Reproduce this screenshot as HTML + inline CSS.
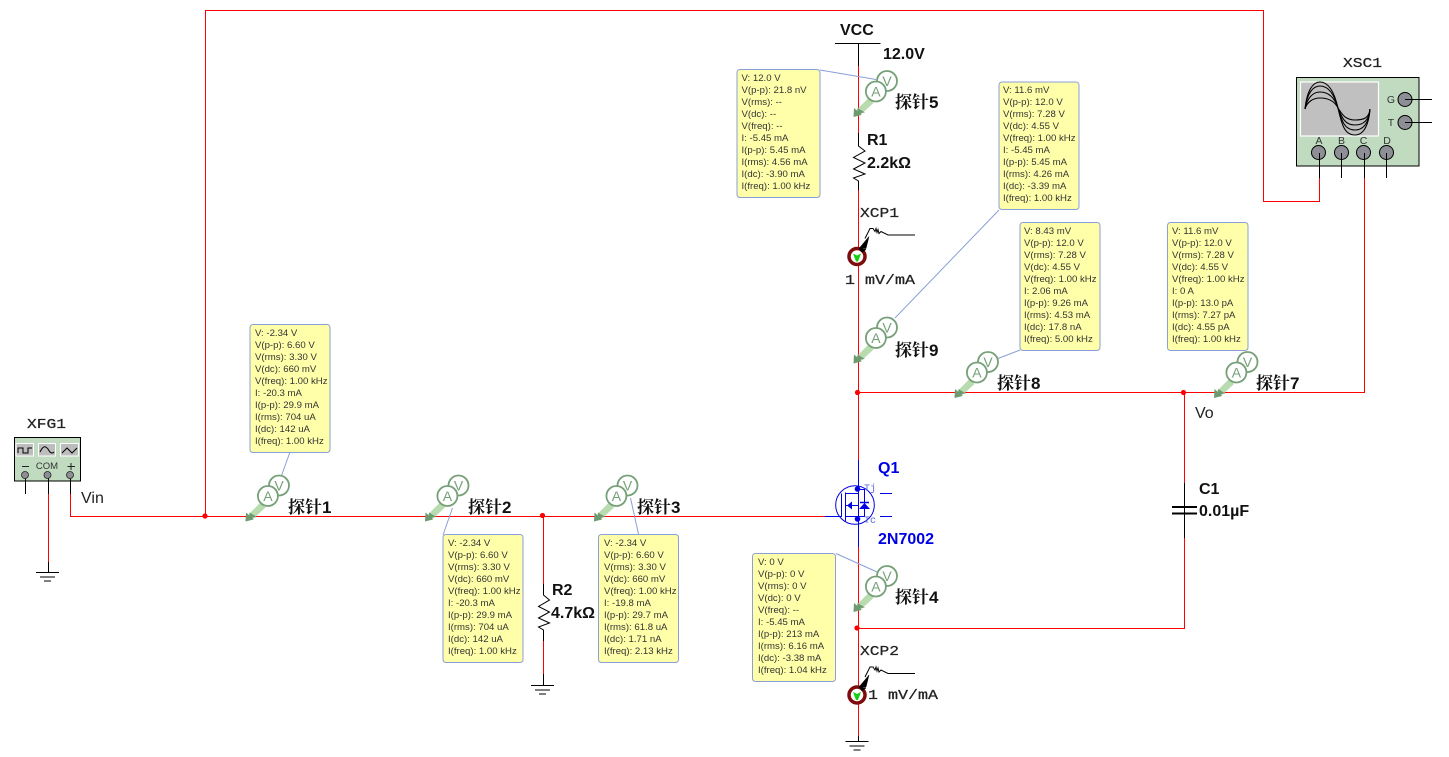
<!DOCTYPE html>
<html><head><meta charset="utf-8">
<style>
html,body{margin:0;padding:0;background:#fff}
svg{display:block}
text{font-family:"Liberation Sans","Noto Sans CJK SC",sans-serif}
.b{font-weight:bold;font-size:16px;fill:#111}
.m{font-family:"Liberation Mono",monospace;font-size:14px;fill:#222;stroke:#222;stroke-width:.25}
.p{font-family:"Liberation Sans","Noto Serif CJK SC",serif;font-weight:bold;font-size:17px;fill:#111}
.t{font-size:9.6px;fill:#333}
.tip{fill:#ffffaa;stroke:#8a9fd8;stroke-width:1}
.ld{stroke:#8a9fd8;stroke-width:1;fill:none}
.r{stroke:#ff0000;stroke-width:1;fill:none;shape-rendering:crispEdges}
.k{stroke:#000;stroke-width:1;fill:none;shape-rendering:crispEdges}
.kz{stroke:#000;stroke-width:1;fill:none}
.bl{stroke:#0000e6;stroke-width:1;fill:none}
.blt{font-weight:bold;font-size:16px;fill:#0000e6}
</style></head><body>
<svg width="1449" height="757" viewBox="0 0 1449 757" xmlns="http://www.w3.org/2000/svg">
<defs>
<g id="probe">
<path d="M3,-7 L15,-19 L20,-14 L8,-3 Z" fill="#b8dcb0"/>
<path d="M0,0 L0.500,-9 L4,-6 L4,-9 L11.500,-4.500 L7,-4 L8,-2 Z" fill="#6f9a70"/>
<circle cx="33.500" cy="-36" r="10" fill="#fff" stroke="#76a078" stroke-width="1.800"/>
<circle cx="22.400" cy="-25.500" r="10" fill="#fff" stroke="#76a078" stroke-width="1.800"/>
<text x="33.500" y="-31" font-size="14" text-anchor="middle" fill="#76a078">V</text>
<text x="22.400" y="-20.500" font-size="14" text-anchor="middle" fill="#76a078">A</text>
</g>
<g id="gnd">
<path d="M-11.500,0.500H11.500M-7.500,5H7.500M-3.700,9H3.700" stroke="#000" fill="none" shape-rendering="crispEdges"/>
</g>
<g id="xcp">
<path d="M8,-18 L13,-28 L16,-28 L18,-25 L19,-28 L20,-24 L21,-27 L22,-23 L24,-25 L31,-21.500 H58" fill="none" stroke="#000" stroke-width="1"/>
<circle cx="0" cy="0" r="8" fill="#fff" stroke="#7e0c0c" stroke-width="3.500"/>
<path d="M2,-8 L9,-8 L12,-20 Z M2,-8 L9,-7 L5,-4 Z" fill="#000" stroke="#000" stroke-width=".5"/>
<path d="M-4,-3 L0,-1 L4,-3 L1,5 L-1,5 Z" fill="#10d010"/>
</g>
</defs>

<!-- wires -->
<path class="r" d="M205.500,516.500V10.500H1263.500V201.500H1319.500V178"/>
<path class="r" d="M70.500,494V516.500H835"/>
<path class="r" d="M48.500,494V562"/>
<path class="k" d="M48.500,562V572"/>
<path class="r" d="M858.500,66V133"/>
<path class="k" d="M858.500,43V66"/>
<path class="k" d="M835,43.500H880.500"/>
<path class="kz" d="M858.500,133V146L865,151L853.500,157.500L865,163L853.500,169L865,174L853.500,178L858.500,181V190"/>
<path class="r" d="M858.500,190V460"/>
<path class="r" d="M858.500,392.500H1364.500V178"/>
<path class="r" d="M858.500,547V736"/>
<path class="k" d="M858.500,736V741"/>
<path class="r" d="M858.500,628.500H1184.500V538"/>
<path class="r" d="M1184.500,392V483"/>
<path class="k" d="M1184.500,483V538"/>
<path d="M1172,507H1197M1172,513.500H1197" stroke="#000" stroke-width="2" fill="none" shape-rendering="crispEdges"/>
<path class="r" d="M543.500,516V584"/>
<path class="kz" d="M543.500,584V595L549.500,600L538.500,606.500L549.500,612L538.500,618L549.500,623L538.500,627L543.500,630V641"/>
<path class="r" d="M543.500,641V674"/>
<path class="k" d="M543.500,674V685"/>
<use href="#gnd" x="47.500" y="572"/>
<use href="#gnd" x="542.500" y="685"/>
<use href="#gnd" x="857" y="741"/>
<g fill="#ff0000">
<circle cx="205" cy="516" r="2.600"/><circle cx="542.500" cy="515.500" r="2.600"/>
<circle cx="857.500" cy="392.500" r="2.600"/><circle cx="1183.500" cy="392.500" r="2.600"/>
<circle cx="857" cy="628" r="2.600"/>
</g>

<!-- MOSFET -->
<g class="bl">
<path d="M858.500,460V547" shape-rendering="crispEdges"/>
<path d="M825,516.500H841.500V493.500M845.500,492.500V521" shape-rendering="crispEdges"/>
<circle cx="855" cy="505" r="19.300"/>
<path d="M845.500,493.500H858M845.500,505.500H858M845.500,516.500H858" shape-rendering="crispEdges"/>
<path d="M858,489.500H864.500V516.500H858" shape-rendering="crispEdges"/>
<path d="M880,493.500H892M880,516.500H892" shape-rendering="crispEdges"/>
</g>
<path d="M847,505.500L852,501.500V509.500Z M864.500,503L859,509H870Z" fill="#0000e6"/>
<path d="M860,502.500H869" stroke="#0000e6" stroke-width="1.500"/>
<circle cx="857.500" cy="489" r="2.800" fill="#0000e6"/><circle cx="857.500" cy="519" r="2.800" fill="#0000e6"/>
<text x="864" y="491" font-size="10" fill="#5a6ad8" style="font-family:'Liberation Mono',monospace">Tj</text>
<text x="864" y="523" font-size="10" fill="#5a6ad8" style="font-family:'Liberation Mono',monospace">Tc</text>
<text class="blt" x="878" y="473">Q1</text>
<text class="blt" x="878" y="544">2N7002</text>

<!-- XCP -->
<use href="#xcp" x="857" y="256.500"/>
<use href="#xcp" x="857" y="695"/>
<text class="m" x="860" y="217" textLength="39" lengthAdjust="spacingAndGlyphs">XCP1</text>
<text class="m" x="860" y="655" textLength="39" lengthAdjust="spacingAndGlyphs">XCP2</text>
<text class="m" x="845" y="284" textLength="70" lengthAdjust="spacingAndGlyphs">1 mV/mA</text>
<text class="m" x="868" y="699" textLength="70" lengthAdjust="spacingAndGlyphs">1 mV/mA</text>

<!-- XSC1 -->
<rect x="1296.500" y="77.500" width="122.500" height="88.500" fill="#c0dbc0" stroke="#000" stroke-width="1"/>
<rect x="1300.500" y="82" width="78" height="54" fill="#c0c0c0" stroke="#fff" stroke-width="1.200"/>
<g fill="none" stroke="#000" stroke-width="1.100">
<path d="M1305,109C1307,90 1313,82 1320,82C1330,82 1335,95 1338,108C1342,114 1345,120 1355,120C1364,120 1369,118 1370,109"/>
<path d="M1305,109C1307,93 1313,86 1320,86C1330,86 1335,97 1338,108C1342,118 1345,125 1355,125C1364,125 1369,120 1370,109"/>
<path d="M1305,109C1307,98 1313,92 1320,92C1330,92 1335,99 1338,108C1342,122 1345,130 1355,130C1364,130 1369,122 1370,109"/>
<path d="M1305,109C1307,102 1313,98 1320,98C1330,98 1335,102 1338,108C1342,126 1345,135 1355,135C1364,135 1369,124 1370,109"/>
</g>
<g fill="#8e8e96" stroke="#000" stroke-width="1">
<circle cx="1318.500" cy="152.500" r="7"/><circle cx="1341.500" cy="152.500" r="7"/><circle cx="1363.500" cy="152.500" r="7"/><circle cx="1386.500" cy="152.500" r="7"/>
<circle cx="1405" cy="99.500" r="7"/><circle cx="1405" cy="122.500" r="7"/>
</g>
<path class="k" d="M1405,99.500H1432M1405,122.500H1432M1319.500,153V178M1341.500,153V178M1364.500,153V178M1386.500,153V178"/>
<g font-size="10.500" fill="#333" text-anchor="middle">
<text x="1319" y="144">A</text><text x="1341.500" y="144">B</text><text x="1363.500" y="144">C</text><text x="1387" y="144">D</text>
<text x="1391" y="103">G</text><text x="1391" y="126">T</text>
</g>
<text class="m" x="1343" y="67" textLength="39" lengthAdjust="spacingAndGlyphs">XSC1</text>

<!-- XFG1 -->
<rect x="14.500" y="437.500" width="66" height="43.500" fill="#c0dbc0" stroke="#000" stroke-width="1"/>
<rect x="16" y="443.500" width="17.500" height="12.500" fill="#bdbdbd" stroke="#fff"/>
<rect x="38.500" y="443.500" width="17" height="12.500" fill="#bdbdbd" stroke="#fff"/>
<rect x="60.500" y="443.500" width="18" height="12.500" fill="#bdbdbd" stroke="#fff"/>
<g fill="none" stroke="#000" stroke-width="1">
<path d="M18,453V448H23V453H28V448H32"/>
<path d="M40,452C44,444 46,447 48,449C50,453 52,454 54,452"/>
<path d="M62,453L67,448L72,453L77,448"/>
</g>
<path d="M22,466.500H29M67.500,466.500H75M71,463V470" stroke="#222" stroke-width="1" shape-rendering="crispEdges"/>
<text x="47" y="469" font-size="9.500" text-anchor="middle" fill="#333">COM</text>
<path class="k" d="M25.500,477V494M48.500,477V494M70.500,477V494"/>
<g fill="#8e8e96" stroke="#222" stroke-width=".8">
<circle cx="25" cy="475" r="3.500"/><circle cx="47.500" cy="475" r="3.500"/><circle cx="70" cy="475" r="3.500"/>
</g>
<text class="m" x="27" y="428" textLength="39" lengthAdjust="spacingAndGlyphs">XFG1</text>
<text x="81" y="503" font-size="16" fill="#222">Vin</text>
<text x="1195" y="418" font-size="16" fill="#222">Vo</text>

<!-- component labels -->
<text class="b" x="840" y="35">VCC</text>
<text class="b" x="883" y="59">12.0V</text>
<text class="b" x="867" y="145">R1</text>
<text class="b" x="867" y="168">2.2kΩ</text>
<text class="b" x="552" y="595">R2</text>
<text class="b" x="551" y="618">4.7kΩ</text>
<text class="b" x="1199" y="494">C1</text>
<text class="b" x="1199" y="516">0.01µF</text>

<!-- leader lines -->
<path class="ld" d="M820,70L876,79.500M999,210L895,318M1020,350L998,358.500M290,452L281,477M452.500,508L443,535M630.500,498L638.500,534M836,553.500L877,572"/>

<!-- probes -->
<use href="#probe" x="245.500" y="521.500"/><text class="p" x="288" y="513">探针1</text>
<use href="#probe" x="425" y="521.500"/><text class="p" x="468" y="513">探针2</text>
<use href="#probe" x="594" y="521.500"/><text class="p" x="637" y="513">探针3</text>
<use href="#probe" x="853.500" y="612"/><text class="p" x="895" y="603">探针4</text>
<use href="#probe" x="853.500" y="117"/><text class="p" x="895" y="108">探针5</text>
<use href="#probe" x="853.500" y="363.500"/><text class="p" x="895" y="356">探针9</text>
<use href="#probe" x="954.500" y="398"/><text class="p" x="997" y="389">探针8</text>
<use href="#probe" x="1214" y="398"/><text class="p" x="1256" y="389">探针7</text>

<!-- tooltips -->
<g>
<rect class="tip" x="737" y="69.500" width="83" height="128" rx="3"/>
<text class="t" y="81"><tspan x="741.500" dy="0">V: 12.0 V</tspan><tspan x="741.500" dy="12">V(p-p): 21.8 nV</tspan><tspan x="741.500" dy="12">V(rms): --</tspan><tspan x="741.500" dy="12">V(dc): --</tspan><tspan x="741.500" dy="12">V(freq): --</tspan><tspan x="741.500" dy="12">I: -5.45 mA</tspan><tspan x="741.500" dy="12">I(p-p): 5.45 mA</tspan><tspan x="741.500" dy="12">I(rms): 4.56 mA</tspan><tspan x="741.500" dy="12">I(dc): -3.90 mA</tspan><tspan x="741.500" dy="12">I(freq): 1.00 kHz</tspan></text>

<rect class="tip" x="999" y="82" width="80" height="127.500" rx="3"/>
<text class="t" y="93"><tspan x="1003" dy="0">V: 11.6 mV</tspan><tspan x="1003" dy="12">V(p-p): 12.0 V</tspan><tspan x="1003" dy="12">V(rms): 7.28 V</tspan><tspan x="1003" dy="12">V(dc): 4.55 V</tspan><tspan x="1003" dy="12">V(freq): 1.00 kHz</tspan><tspan x="1003" dy="12">I: -5.45 mA</tspan><tspan x="1003" dy="12">I(p-p): 5.45 mA</tspan><tspan x="1003" dy="12">I(rms): 4.26 mA</tspan><tspan x="1003" dy="12">I(dc): -3.39 mA</tspan><tspan x="1003" dy="12">I(freq): 1.00 kHz</tspan></text>

<rect class="tip" x="1020" y="222.500" width="80" height="128" rx="3"/>
<text class="t" y="234"><tspan x="1024" dy="0">V: 8.43 mV</tspan><tspan x="1024" dy="12">V(p-p): 12.0 V</tspan><tspan x="1024" dy="12">V(rms): 7.28 V</tspan><tspan x="1024" dy="12">V(dc): 4.55 V</tspan><tspan x="1024" dy="12">V(freq): 1.00 kHz</tspan><tspan x="1024" dy="12">I: 2.06 mA</tspan><tspan x="1024" dy="12">I(p-p): 9.26 mA</tspan><tspan x="1024" dy="12">I(rms): 4.53 mA</tspan><tspan x="1024" dy="12">I(dc): 17.8 nA</tspan><tspan x="1024" dy="12">I(freq): 5.00 kHz</tspan></text>

<rect class="tip" x="1167.500" y="222.500" width="80.500" height="128" rx="3"/>
<text class="t" y="234"><tspan x="1172" dy="0">V: 11.6 mV</tspan><tspan x="1172" dy="12">V(p-p): 12.0 V</tspan><tspan x="1172" dy="12">V(rms): 7.28 V</tspan><tspan x="1172" dy="12">V(dc): 4.55 V</tspan><tspan x="1172" dy="12">V(freq): 1.00 kHz</tspan><tspan x="1172" dy="12">I: 0 A</tspan><tspan x="1172" dy="12">I(p-p): 13.0 pA</tspan><tspan x="1172" dy="12">I(rms): 7.27 pA</tspan><tspan x="1172" dy="12">I(dc): 4.55 pA</tspan><tspan x="1172" dy="12">I(freq): 1.00 kHz</tspan></text>

<rect class="tip" x="250" y="324.500" width="80" height="128" rx="3"/>
<text class="t" y="336"><tspan x="255" dy="0">V: -2.34 V</tspan><tspan x="255" dy="12">V(p-p): 6.60 V</tspan><tspan x="255" dy="12">V(rms): 3.30 V</tspan><tspan x="255" dy="12">V(dc): 660 mV</tspan><tspan x="255" dy="12">V(freq): 1.00 kHz</tspan><tspan x="255" dy="12">I: -20.3 mA</tspan><tspan x="255" dy="12">I(p-p): 29.9 mA</tspan><tspan x="255" dy="12">I(rms): 704 uA</tspan><tspan x="255" dy="12">I(dc): 142 uA</tspan><tspan x="255" dy="12">I(freq): 1.00 kHz</tspan></text>

<rect class="tip" x="443" y="534.500" width="80" height="128" rx="3"/>
<text class="t" y="546"><tspan x="448" dy="0">V: -2.34 V</tspan><tspan x="448" dy="12">V(p-p): 6.60 V</tspan><tspan x="448" dy="12">V(rms): 3.30 V</tspan><tspan x="448" dy="12">V(dc): 660 mV</tspan><tspan x="448" dy="12">V(freq): 1.00 kHz</tspan><tspan x="448" dy="12">I: -20.3 mA</tspan><tspan x="448" dy="12">I(p-p): 29.9 mA</tspan><tspan x="448" dy="12">I(rms): 704 uA</tspan><tspan x="448" dy="12">I(dc): 142 uA</tspan><tspan x="448" dy="12">I(freq): 1.00 kHz</tspan></text>

<rect class="tip" x="598.500" y="534.500" width="80" height="128" rx="3"/>
<text class="t" y="546"><tspan x="604" dy="0">V: -2.34 V</tspan><tspan x="604" dy="12">V(p-p): 6.60 V</tspan><tspan x="604" dy="12">V(rms): 3.30 V</tspan><tspan x="604" dy="12">V(dc): 660 mV</tspan><tspan x="604" dy="12">V(freq): 1.00 kHz</tspan><tspan x="604" dy="12">I: -19.8 mA</tspan><tspan x="604" dy="12">I(p-p): 29.7 mA</tspan><tspan x="604" dy="12">I(rms): 61.8 uA</tspan><tspan x="604" dy="12">I(dc): 1.71 nA</tspan><tspan x="604" dy="12">I(freq): 2.13 kHz</tspan></text>

<rect class="tip" x="752.500" y="553.500" width="83" height="128" rx="3"/>
<text class="t" y="565"><tspan x="758" dy="0">V: 0 V</tspan><tspan x="758" dy="12">V(p-p): 0 V</tspan><tspan x="758" dy="12">V(rms): 0 V</tspan><tspan x="758" dy="12">V(dc): 0 V</tspan><tspan x="758" dy="12">V(freq): --</tspan><tspan x="758" dy="12">I: -5.45 mA</tspan><tspan x="758" dy="12">I(p-p): 213 mA</tspan><tspan x="758" dy="12">I(rms): 6.16 mA</tspan><tspan x="758" dy="12">I(dc): -3.38 mA</tspan><tspan x="758" dy="12">I(freq): 1.04 kHz</tspan></text>
</g>
</svg>
</body></html>
